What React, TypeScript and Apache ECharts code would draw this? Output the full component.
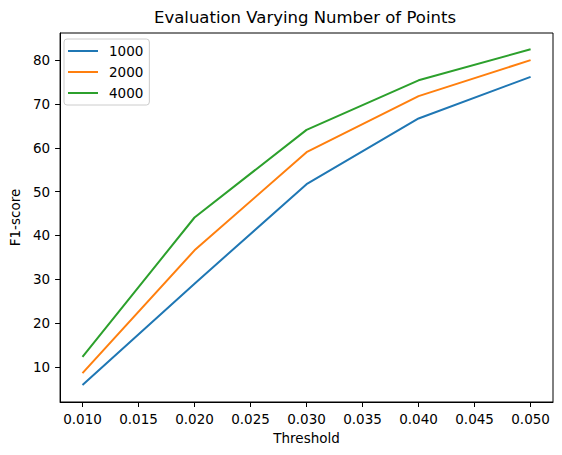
import * as echarts from "echarts";
import { useEffect, useRef } from "react";

const thresholds = [0.01, 0.02, 0.03, 0.04, 0.05];
const f1_1000 = [5.9, 29.0, 51.7, 66.7, 76.2];
const f1_2000 = [8.6, 36.6, 59.0, 71.8, 80.0];
const f1_4000 = [12.3, 44.1, 64.1, 75.4, 82.5];
const xTicks = [0.01, 0.015, 0.02, 0.025, 0.03, 0.035, 0.04, 0.045, 0.05];
const yTicks = [10, 20, 30, 40, 50, 60, 70, 80];

const FONT = "DejaVu Sans";
const LINE_ICON = "path://M0,0 L30,0 L30,2 L0,2 Z";

function App() {
  const chartRef = useRef(null);

  useEffect(() => {
    const chart = echarts.init(chartRef.current, null, { renderer: "svg" });

    const mk = (name: string, vals: number[], color: string) => ({
      name,
      type: "line",
      data: thresholds.map((t, i) => [t, vals[i]]),
      symbol: "none",
      lineStyle: { color, width: 2 },
      itemStyle: { color },
    });

    const options = {
      animation: false,
      textStyle: { fontFamily: FONT },
      title: {
        text: "Evaluation Varying Number of Points",
        left: 305,
        top: 9,
        padding: 0,
        textAlign: "center",
        textStyle: { fontFamily: FONT, fontSize: 16.5, fontWeight: "normal", color: "#000" },
      },
      legend: {
        orient: "vertical",
        left: 64,
        top: 39,
        padding: [5, 6, 5, 4],
        itemWidth: 30,
        itemHeight: 14,
        itemGap: 7,
        backgroundColor: "#fff",
        borderColor: "#cccccc",
        borderWidth: 1,
        borderRadius: 3,
        textStyle: { fontFamily: FONT, fontSize: 13.5, color: "#000", padding: [0, 0, 0, 6] },
        data: [
          { name: "1000", icon: LINE_ICON },
          { name: "2000", icon: LINE_ICON },
          { name: "4000", icon: LINE_ICON },
        ],
      },
      grid: {
        left: 57,
        right: 9,
        top: 33,
        bottom: 53,
        show: true,
        borderColor: "#000",
        borderWidth: 1,
        backgroundColor: "transparent",
      },
      xAxis: {
        type: "value",
        min: 0.008,
        max: 0.052,
        name: "Threshold",
        nameLocation: "middle",
        nameGap: 28,
        nameTextStyle: { fontFamily: FONT, fontSize: 13.5, color: "#000" },
        splitLine: { show: false },
        axisLine: { show: true, lineStyle: { color: "#000" } },
        axisTick: { show: true, length: 5, customValues: xTicks, lineStyle: { color: "#000" } },
        axisLabel: {
          customValues: xTicks,
          margin: 10,
          fontFamily: FONT,
          fontSize: 13.5,
          color: "#000",
          formatter: (v: number) => v.toFixed(3),
        },
      },
      yAxis: {
        type: "value",
        min: 2,
        max: 86.2,
        name: "F1-score",
        nameLocation: "middle",
        nameGap: 31,
        nameTextStyle: { fontFamily: FONT, fontSize: 13.5, color: "#000" },
        splitLine: { show: false },
        axisLine: { show: true, lineStyle: { color: "#000" } },
        axisTick: { show: true, length: 5, customValues: yTicks, lineStyle: { color: "#000" } },
        axisLabel: {
          customValues: yTicks,
          margin: 10,
          fontFamily: FONT,
          fontSize: 13.5,
          color: "#000",
        },
      },
      series: [
        mk("1000", f1_1000, "#1f77b4"),
        mk("2000", f1_2000, "#ff7f0e"),
        mk("4000", f1_4000, "#2ca02c"),
      ],
    };

    chart.setOption(options);

    return () => {
      chart.dispose();
    };
  }, []);

  return (
    <div
      ref={chartRef}
      style={{ position: "fixed", left: 0, top: 0, width: "562px", height: "455px", background: "#fff" }}
    />
  );
}

export default App;
